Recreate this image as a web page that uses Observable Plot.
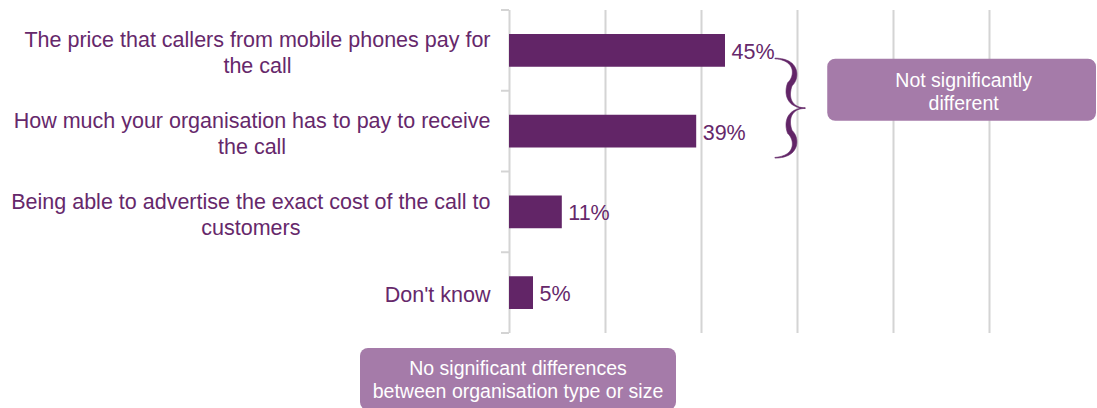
<!DOCTYPE html>
<html>
<head>
<meta charset="utf-8">
<script src="https://cdn.jsdelivr.net/npm/d3@7"></script>
<script src="https://cdn.jsdelivr.net/npm/@observablehq/plot@0.6"></script>
<style>
  html, body { margin: 0; padding: 0; background: #fff; }
  #chart svg { display: block; }
</style>
</head>
<body>
<div id="chart"></div>
<script>
// ---- data ----
const categories = [
  "The price that callers from mobile phones pay for the call",
  "How much your organisation has to pay to receive the call",
  "Being able to advertise the exact cost of the call to customers",
  "Don't know"
];
const categoryLines = [
  ["The price that callers from mobile phones pay for", "the call"],
  ["How much your organisation has to pay to receive", "the call"],
  ["Being able to advertise the exact cost of the call to", "customers"],
  ["Don't know"]
];
const values = [45, 39, 11, 5];
const gridTicks = [20, 40, 60, 80, 100];
const bracketNote = ["Not significantly", "different"];
const footNote = ["No significant differences", "between organisation type or size"];

const data = categories.map((c, i) => ({label: c, value: values[i]}));

// ---- style ----
const FONT = "'Liberation Sans', Arial, Helvetica, sans-serif";
const BAR = "#622567";
const TEXT = "#66286b";
const BOX = "#a57ba9";
const GRID = "#d4d4d4";
const W = 1097, H = 408;
const ML = 509, MR = 108, MT = 10, MB = 75;
const FS = 21.5;

// measure text widths so multi-line labels centre on their longest line
const ctx = document.createElement("canvas").getContext("2d");
ctx.font = `${FS}px ${FONT}`;
const labelRight = ML - 19;

const labelMarks = categories.map((c, i) => {
  const lines = categoryLines[i];
  const w = Math.max(...lines.map(l => ctx.measureText(l).width));
  const center = labelRight - w / 2;
  return Plot.text([c], {
    y: d => d,
    frameAnchor: "left",
    text: () => lines.join("\n"),
    textAnchor: "middle",
    lineAnchor: "middle",
    lineHeight: 26 / FS,
    dx: center - ML,
    dy: 1,
    fill: TEXT,
    fontSize: FS
  });
});

// cubic bezier helper
function bez(p0, p1, p2, p3, t) {
  const u = 1 - t;
  return [
    u*u*u*p0[0] + 3*u*u*t*p1[0] + 3*u*t*t*p2[0] + t*t*t*p3[0],
    u*u*u*p0[1] + 3*u*u*t*p1[1] + 3*u*t*t*p2[1] + t*t*t*p3[1]
  ];
}

function bracePath(xl, xt, t, b) {
  const m = (t + b) / 2;
  const segs = [
    [[xl, t], [xl + 24, t + 1], [xl + 22, t + 20], [xl + 15, m - 24]],
    [[xl + 15, m - 24], [xl + 10, m - 10], [xl + 17, m], [xt, m]]
  ];
  const pts = [];
  segs.forEach((s, si) => {
    for (let k = 0; k <= 30; k++) {
      if (si > 0 && k === 0) continue;
      pts.push(bez(s[0], s[1], s[2], s[3], k / 30));
    }
  });
  const n = pts.length;
  const left = [], right = [];
  pts.forEach((p, i) => {
    const a = pts[Math.max(0, i - 1)], c = pts[Math.min(n - 1, i + 1)];
    let dx = c[0] - a[0], dy = c[1] - a[1];
    const len = Math.hypot(dx, dy) || 1;
    const nx = -dy / len, ny = dx / len;
    const u = i / (n - 1);
    const w = (0.7 + 4.6 * Math.pow(Math.sin(Math.PI * Math.min(1, u * 1.1)), 1.3)) / 2;
    left.push([p[0] + nx * w, p[1] + ny * w]);
    right.push([p[0] - nx * w, p[1] - ny * w]);
  });
  const half = left.concat(right.reverse());
  const mirror = half.map(p => [p[0], 2 * m - p[1]]);
  const toD = arr => "M" + arr.map(p => p[0].toFixed(2) + "," + p[1].toFixed(2)).join("L") + "Z";
  return toD(half) + toD(mirror);
}

function annotations(index, scales, values, dimensions) {
  const x = scales.x, y = scales.y;
  const bw = y.bandwidth ? y.bandwidth() : (dimensions.height - MT - MB) / categories.length;
  const g = d3.create("svg:g");
  // category tick marks at band boundaries
  const edges = categories.map(c => y(c)).concat([y(categories[categories.length - 1]) + bw]);
  g.append("g").selectAll("line").data(edges).join("line")
    .attr("x1", x(0) - 8).attr("x2", x(0))
    .attr("y1", d => d).attr("y2", d => d)
    .attr("stroke", GRID).attr("stroke-width", 2);

  // curly brace spanning the first two bars
  const xl = x(55.4), xt = x(61.7);
  const t = y(categories[0]) + 0.6 * bw;
  const b = y(categories[1]) + 0.83 * bw;
  g.append("path").attr("d", bracePath(xl, xt, t, b)).attr("fill", BAR)
    .attr("stroke", BAR).attr("stroke-width", 0.6).attr("stroke-linejoin", "round");

  // box: not significantly different
  const b1x = x(66.3), b1w = dimensions.width - 1 - b1x;
  const b1c = y(categories[1]) - 1;
  const box1 = g.append("g");
  box1.append("rect").attr("x", b1x).attr("y", b1c - 31).attr("width", b1w).attr("height", 62)
    .attr("rx", 8).attr("fill", BOX);
  const t1 = box1.append("text").attr("text-anchor", "middle").attr("fill", "#fff")
    .attr("font-size", 19.5).attr("font-family", FONT);
  bracketNote.forEach((l, i) => t1.append("tspan").attr("x", b1x + b1w / 2 + 2)
    .attr("y", b1c - 3 + i * 23).text(l));

  // box: no significant differences
  const bottom = y(categories[categories.length - 1]) + bw;
  const b2x = x(0) - 149, b2w = 316, b2y = bottom + 15;
  const box2 = g.append("g");
  box2.append("rect").attr("x", b2x).attr("y", b2y).attr("width", b2w).attr("height", 62)
    .attr("rx", 8).attr("fill", BOX);
  const t2 = box2.append("text").attr("text-anchor", "middle").attr("fill", "#fff")
    .attr("font-size", 19.5).attr("font-family", FONT);
  footNote.forEach((l, i) => t2.append("tspan").attr("x", b2x + b2w / 2)
    .attr("y", b2y + 27 + i * 22.5).text(l));
  return g.node();
}

const chart = Plot.plot({
  width: W,
  height: H,
  marginLeft: ML,
  marginRight: MR,
  marginTop: MT,
  marginBottom: MB,
  style: {fontFamily: FONT, background: "#fff", overflow: "hidden"},
  x: {domain: [0, 100], axis: null},
  y: {domain: categories, axis: null, padding: 0, round: false},
  marks: [
    Plot.ruleX(gridTicks, {stroke: GRID, strokeWidth: 2}),
    Plot.ruleX([0], {stroke: GRID, strokeWidth: 2}),
    Plot.barX(data, {x: "value", y: "label", fill: BAR, insetTop: 24, insetBottom: 24}),
    Plot.text(data, {x: "value", y: "label", text: d => d.value + "%", textAnchor: "start",
      dx: 6, dy: 1, fill: TEXT, fontSize: FS}),
    ...labelMarks,
    annotations
  ]
});
document.getElementById("chart").appendChild(chart);
</script>
</body>
</html>
